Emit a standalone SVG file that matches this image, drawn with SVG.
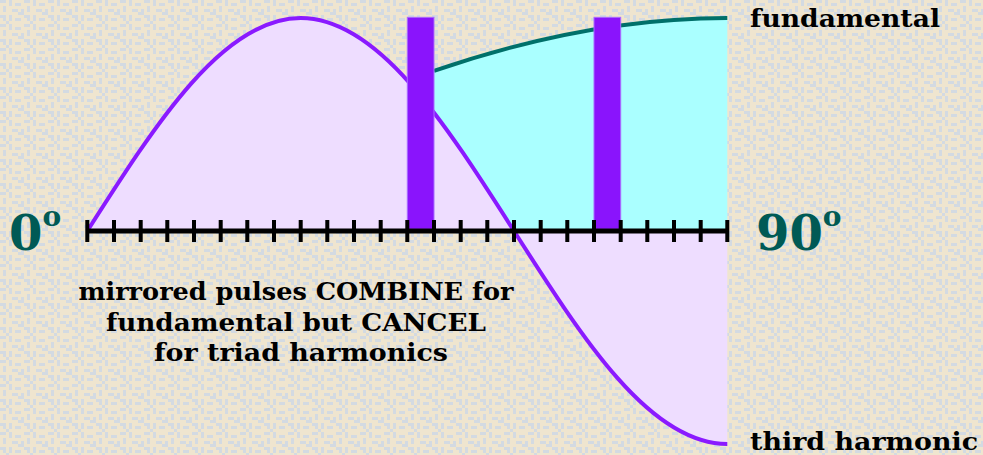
<svg xmlns="http://www.w3.org/2000/svg" width="983" height="455" viewBox="0 0 983 455">
  <defs>
    <pattern id="bg" width="24" height="24" patternUnits="userSpaceOnUse">
      <rect width="24" height="24" fill="#EFE5CF"/>
      <g fill="#D3DAE2">
        <rect x="0" y="0" width="6" height="3"/>
        <rect x="9" y="0" width="3" height="6"/>
        <rect x="15" y="3" width="6" height="3"/>
        <rect x="3" y="6" width="3" height="6"/>
        <rect x="12" y="9" width="6" height="3"/>
        <rect x="21" y="9" width="3" height="6"/>
        <rect x="0" y="15" width="6" height="3"/>
        <rect x="9" y="15" width="3" height="6"/>
        <rect x="15" y="18" width="6" height="3"/>
        <rect x="6" y="21" width="3" height="3"/>
        <rect x="18" y="12" width="3" height="3"/>
        <rect x="3" y="18" width="3" height="3"/>
      </g>
    </pattern>
    <style>
      .lbl { font-family: "DejaVu Serif", "Liberation Serif", serif; font-weight: bold; fill: #000; }
      .deg { font-family: "DejaVu Serif", "Liberation Serif", serif; font-weight: bold; fill: #005A55; font-size: 48px; }
      .bar { fill: #8A14FC; stroke: #A86CFF; stroke-width: 1; }
      .tick { stroke: #000; stroke-width: 4; }
    </style>
  </defs>
  <rect width="983" height="455" fill="url(#bg)"/>

  <g id="fundamental">
    <path d="M434,231 L434,70.9 C531.8,37.2 629.5,18 727.3,18 L727.3,231 Z" fill="#AAFFFF"/>
    <path d="M434,70.9 C531.8,37.2 629.5,18 727.3,18" fill="none" stroke="#00706A" stroke-width="4"/>
  </g>

  <g id="third-harmonic">
    <path d="M87.3,231 C156.9,121.9 223.4,18 300.7,18 C377.9,18 444.4,121.9 514,231 C583.6,340.1 650.1,444 727.3,444 L727.3,231 Z" fill="#EEDDFF"/>
    <path d="M87.3,231 C156.9,121.9 223.4,18 300.7,18 C377.9,18 444.4,121.9 514,231 C583.6,340.1 650.1,444 727.3,444" fill="none" stroke="#8A1AFF" stroke-width="4"/>
  </g>

  <g id="pulses">
    <rect class="bar" x="407.3" y="17.3" width="26.7" height="212"/>
    <rect class="bar" x="594" y="17.3" width="26.7" height="212"/>
  </g>

  <g id="axis">
    <line x1="87.3" y1="231" x2="727.3" y2="231" stroke="#000" stroke-width="5"/>
    <path class="tick" d="M87.3,220V242M114,220V242M140.7,220V242M167.3,220V242M194,220V242M220.7,220V242M247.3,220V242M274,220V242M300.7,220V242M327.3,220V242M354,220V242M380.7,220V242M407.3,220V242M434,220V242M460.7,220V242M487.3,220V242M514,220V242M540.7,220V242M567.3,220V242M594,220V242M620.7,220V242M647.3,220V242M674,220V242M700.7,220V242M727.3,220V242"/>
  </g>

  <g id="labels">
    <text class="deg" x="9" y="250">0<tspan font-size="28" dy="-24">o</tspan></text>
    <text class="deg" x="756" y="250">90<tspan font-size="28" dy="-24">o</tspan></text>
    <text class="lbl" x="750" y="26.5" font-size="23.5" textLength="190" lengthAdjust="spacingAndGlyphs">fundamental</text>
    <text class="lbl" x="750" y="450" font-size="23.5" textLength="228" lengthAdjust="spacingAndGlyphs">third harmonic</text>
    <text class="lbl" font-size="23.5" text-anchor="middle">
      <tspan x="300" y="300" textLength="435" lengthAdjust="spacingAndGlyphs">mirrored pulses COMBINE for</tspan>
      <tspan x="300" y="331" textLength="380" lengthAdjust="spacingAndGlyphs">fundamental but CANCEL</tspan>
      <tspan x="301" y="361" textLength="294" lengthAdjust="spacingAndGlyphs">for triad harmonics</tspan>
    </text>
  </g>
</svg>
